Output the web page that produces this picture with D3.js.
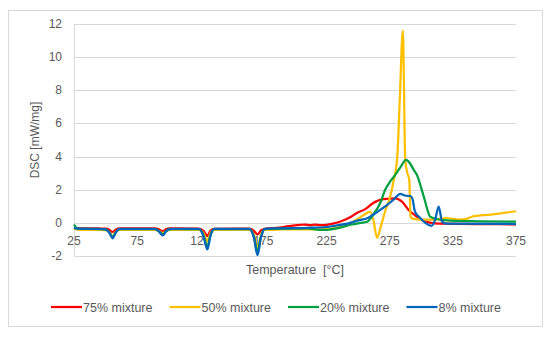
<!DOCTYPE html>
<html>
<head>
<meta charset="utf-8">
<script src="https://cdn.jsdelivr.net/npm/d3@7"></script>
<style>
  body { margin: 0; background: #fff; }
  svg text { font-family: "Liberation Sans", Arial, sans-serif; fill: #595959; }
</style>
</head>
<body>
<svg id="chart" width="550" height="337"></svg>
<script>
// Temperature [°C] vs DSC [mW/mg]
const mix75 = [[25,-0.3],[30,-0.33],[45,-0.34],[50,-0.35],[53,-0.42],[55.6,-0.55],[58,-0.42],[61,-0.34],
  [89,-0.33],[92,-0.38],[95.3,-0.5],[98,-0.38],[101,-0.33],
  [124,-0.35],[127.5,-0.48],[130.6,-0.78],[133,-0.48],[136,-0.36],
  [164,-0.35],[167.5,-0.48],[170.3,-0.7],[173,-0.46],[176,-0.36],
  [185,-0.3],[195,-0.2],[200,-0.15],[204,-0.12],[208,-0.1],[212,-0.14],[216,-0.1],[220,-0.14],[225,-0.12],[230,-0.05],
  [235,0.05],[240,0.2],[245,0.4],[249,0.6],[255,0.8],[262,1.2],[268.8,1.42],[274,1.45],[279.4,1.48],[284.7,1.28],[290,0.78],[295.3,0.44],[300.6,0.17],
  [305.7,0.03],[315,-0.05],[345,-0.07],[375,-0.09]];
const mix50 = [[25,-0.35],[30,-0.42],[45,-0.42],[50,-0.44],[53,-0.56],[55.6,-0.8],[58,-0.56],[61,-0.43],
  [89,-0.42],[92,-0.48],[95.3,-0.62],[98,-0.48],[101,-0.42],
  [124,-0.42],[127.5,-0.62],[130.6,-1.1],[133,-0.62],[136,-0.43],
  [164,-0.42],[167.5,-0.75],[170.3,-1.5],[173,-0.75],[176,-0.42],
  [190,-0.4],[210,-0.39],[225,-0.38],[240,-0.15],[250,0.25],[255,0.5],[259.5,0.68],[262,0.2],[265,-0.9],[268,-0.2],
  [271.4,0.7],[275,1.5],[278,2.5],[281,4.0],[283,7.5],[285.4,11.6],[287.3,3.8],[289,3.0],[290.5,2.6],[291.5,0.4],[293,0.25],[300,0.2],[310,0.2],[320,0.28],
  [330,0.2],[335,0.22],[340,0.37],[355,0.5],[375,0.7]];
const mix20 = [[25,-0.1],[28,-0.35],[45,-0.38],[50,-0.4],[53,-0.58],[55.6,-0.85],[58,-0.58],[61,-0.38],
  [89,-0.38],[92,-0.5],[95.3,-0.7],[98,-0.5],[101,-0.38],
  [124,-0.38],[127.5,-0.75],[130.6,-1.45],[133,-0.75],[136,-0.38],
  [164,-0.38],[167.5,-0.85],[170.3,-1.75],[173,-0.85],[176,-0.38],
  [190,-0.35],[210,-0.33],[215,-0.38],[220,-0.43],[225,-0.42],[235,-0.3],[245,-0.1],[252,0],[257,0.07],[262,0.5],
  [267.5,1.2],[271.4,2.0],[275.4,2.5],[279.4,2.9],[283,3.3],[288,3.8],[291,3.6],[294,3.2],[296.5,2.9],[300,2.1],[303,1.3],[305,0.75],[307,0.37],[311,0.25],
  [320,0.15],[340,0.1],[375,0.07]];
const mix8 = [[25,-0.3],[28,-0.35],[45,-0.37],[50,-0.4],[53,-0.6],[55.6,-0.93],[58,-0.6],[61,-0.37],
  [89,-0.37],[92,-0.5],[95.3,-0.75],[98,-0.5],[101,-0.37],
  [124,-0.37],[127.5,-0.8],[130.6,-1.6],[133,-0.8],[136,-0.37],
  [164,-0.36],[167.5,-0.9],[170.3,-1.95],[173,-0.9],[176,-0.36],
  [190,-0.33],[210,-0.3],[225,-0.25],[230.5,-0.19],[243.7,0],[250,0.15],[257.2,0.28],[265,0.65],[273,1.08],[278,1.4],
  [283.4,1.75],[287,1.65],[291.3,1.62],[293,1.45],[295,0.68],[299,0.31],[303.7,-0.03],[308,-0.18],[311,0.2],[313.8,0.98],[316.5,0.07],[320,-0.05],[375,-0.07]];

const seriesNames = ["75% mixture", "50% mixture", "20% mixture", "8% mixture"];
const seriesColors = ["#ff0000", "#ffc000", "#00a040", "#0066bb"];
const xTicks = [25, 75, 125, 175, 225, 275, 325, 375];
const yTicks = [-2, 0, 2, 4, 6, 8, 10, 12];

const svg = d3.select("#chart");

// outer chart border
svg.append("rect")
  .attr("x", 8.5).attr("y", 10.5)
  .attr("width", 534).attr("height", 316)
  .attr("fill", "#fff").attr("stroke", "#d9d9d9");

const x = d3.scaleLinear().domain([25, 375]).range([74, 516]);
const y = d3.scaleLinear().domain([-2, 12]).range([256, 24]);

// gridlines
svg.append("g").selectAll("line")
  .data(yTicks)
  .enter().append("line")
  .attr("x1", 74).attr("x2", 516)
  .attr("y1", d => Math.round(y(d)) + 0.5).attr("y2", d => Math.round(y(d)) + 0.5)
  .attr("stroke", "#d9d9d9").attr("stroke-width", 1);

// y axis line
svg.append("line")
  .attr("x1", 74.5).attr("x2", 74.5)
  .attr("y1", y(12)).attr("y2", y(-2))
  .attr("stroke", "#d9d9d9");

// y tick labels
svg.append("g").selectAll("text")
  .data(yTicks)
  .enter().append("text")
  .attr("x", 62).attr("y", d => y(d) + 4)
  .attr("text-anchor", "end")
  .style("font-size", "12px")
  .text(d => d);

// x tick labels (axis crosses at 0)
svg.append("g").selectAll("text")
  .data(xTicks)
  .enter().append("text")
  .attr("x", d => x(d)).attr("y", y(0) + 22)
  .attr("text-anchor", "middle")
  .style("font-size", "12px")
  .text(d => d);

// axis titles
svg.append("text")
  .attr("x", 295).attr("y", 274)
  .attr("text-anchor", "middle")
  .style("font-size", "12.5px")
  .attr("xml:space", "preserve")
  .text("Temperature  [°C]");

svg.append("text")
  .attr("transform", "translate(39,140) rotate(-90)")
  .attr("text-anchor", "middle")
  .style("font-size", "12px")
  .text("DSC [mW/mg]");

// series lines
const line = d3.line()
  .x(d => x(d[0]))
  .y(d => y(d[1]))
  .curve(d3.curveMonotoneX);

const allSeries = [mix75, mix50, mix20, mix8];
svg.append("g").selectAll("path")
  .data(allSeries)
  .enter().append("path")
  .attr("d", line)
  .attr("fill", "none")
  .attr("stroke", (d, i) => seriesColors[i])
  .attr("stroke-width", 2.25)
  .attr("stroke-linejoin", "round");

// legend
const legend = svg.append("g");
const items = legend.selectAll("g")
  .data(seriesNames)
  .enter().append("g");
items.append("line")
  .attr("x1", 0).attr("x2", 31)
  .attr("y1", 0).attr("y2", 0)
  .attr("stroke", (d, i) => seriesColors[i])
  .attr("stroke-width", 2.25);
items.append("text")
  .attr("x", 32).attr("y", 4.5)
  .style("font-size", "12.5px")
  .text(d => d);

let pos = 0;
const offsets = [];
items.each(function () {
  offsets.push(pos);
  pos += 32 + this.querySelector("text").getComputedTextLength() + 17;
});
const total = pos - 17;
const start = 276 - total / 2;
items.attr("transform", (d, i) => `translate(${start + offsets[i]},307)`);
</script>
</body>
</html>
